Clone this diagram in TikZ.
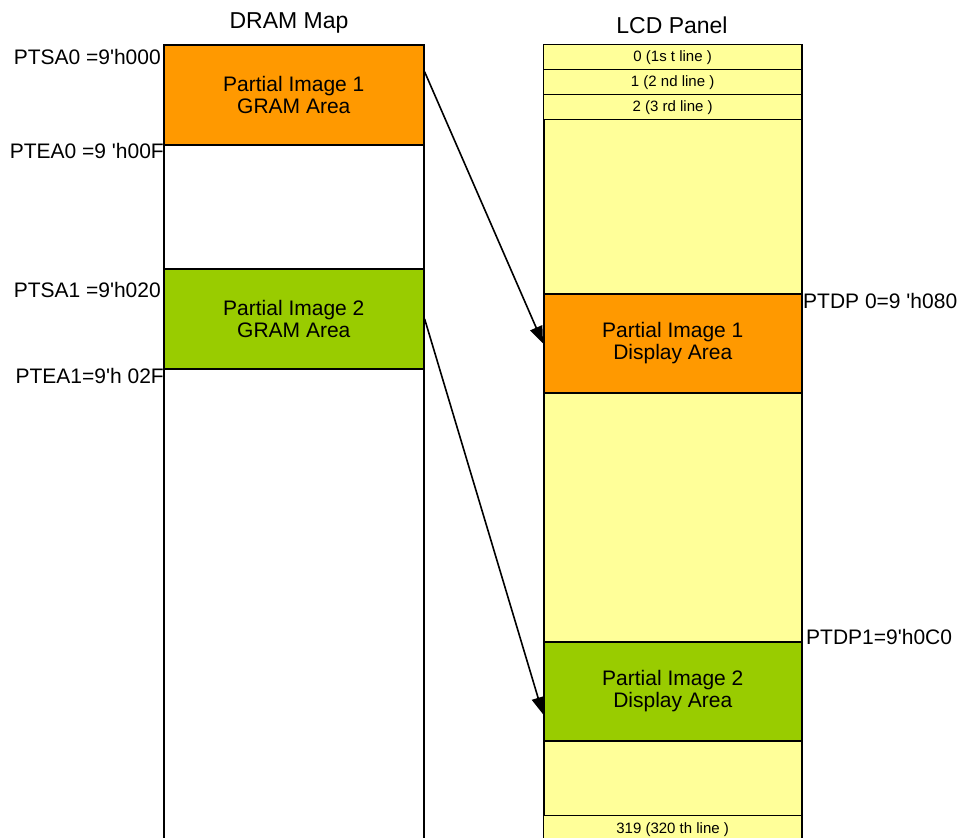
\documentclass[tikz,border=0pt]{standalone}
\usepackage{fontspec}
\setmainfont{Liberation Sans}
\usetikzlibrary{arrows.meta}
\definecolor{cOrange}{RGB}{255,153,0}
\definecolor{cGreen}{RGB}{153,204,0}
\definecolor{cYellow}{RGB}{255,255,153}
\newcommand{\ap}{\textquotesingle}
\begin{document}
\begin{tikzpicture}[x=1pt,y=-1pt,
  box/.style={draw=black,line width=1.6pt,inner sep=0pt,anchor=north west,align=center,
    font=\fontsize{21}{22}\selectfont},
  rowbox/.style={draw=black,line width=1.3pt,fill=cYellow,inner sep=0pt,anchor=north west,
    minimum width=258pt,font=\fontsize{15}{17}\selectfont},
  lbl/.style={inner sep=0pt,font=\fontsize{21}{22}\selectfont},
  ttl/.style={inner sep=0pt,font=\fontsize{23}{25}\selectfont,anchor=base},
  arr/.style={line width=1.6pt,-{Triangle[length=17pt,width=13pt]}}]
\useasboundingbox (0,0) rectangle (962,838);
% DRAM column
\node[box,fill=white,minimum width=260pt,minimum height=806pt] (dram) at (163,44) {};
\node[box,fill=cOrange,minimum width=260pt,minimum height=100pt] (g1) at (163,44) {Partial Image 1\\GRAM Area};
\node[box,fill=cGreen,minimum width=260pt,minimum height=100pt] (g2) at (163,268) {Partial Image 2\\GRAM Area};
% LCD column
\node[box,fill=cYellow,minimum width=258pt,minimum height=806pt] (lcd) at (543,44) {};
\node[rowbox,minimum height=25pt] (r0) at (543,44) {0 (1s t line )};
\node[rowbox,minimum height=25pt] (r1) at (543,69) {1 (2 nd line )};
\node[rowbox,minimum height=25pt] (r2) at (543,94) {2 (3 rd line )};
\node[box,fill=cOrange,minimum width=258pt,minimum height=99pt] (d1) at (543,293) {Partial Image 1\\Display Area};
\node[box,fill=cGreen,minimum width=258pt,minimum height=99pt] (d2) at (543,641) {Partial Image 2\\Display Area};
\node[rowbox,minimum height=28pt] (r319) at (543,815) {319 (320 th line )};
% titles
\node[ttl] (t1) at (289,28) {DRAM Map};
\node[ttl] (t2) at (672,33) {LCD Panel};
% labels
\node[lbl,anchor=base east] (l1) at (161,64) {PTSA0 =9\ap h000};
\node[lbl,anchor=base east] (l2) at (164,158) {PTEA0 =9 \ap h00F};
\node[lbl,anchor=base east] (l3) at (161,297) {PTSA1 =9\ap h020};
\node[lbl,anchor=base east] (l4) at (164,383) {PTEA1=9\ap h 02F};
\node[lbl,anchor=base west] (l5) at (803,308) {PTDP 0=9 \ap h080};
\node[lbl,anchor=base west] (l6) at (806,644) {PTDP1=9\ap h0C0};
% arrows
\draw[arr] (g1.10.5) -- (d1.180.5);
\draw[arr] (g2.east) -- (d2.190.8);
\end{tikzpicture}
\end{document}
